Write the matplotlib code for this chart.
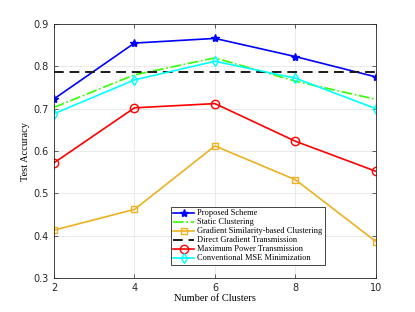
import matplotlib
matplotlib.use('Agg')
from matplotlib import pyplot as plt

clusters = [2, 4, 6, 8, 10]
proposed = [0.723, 0.855, 0.866, 0.823, 0.775]
static = [0.703, 0.780, 0.820, 0.765, 0.722]
grad_sim = [0.413, 0.462, 0.612, 0.532, 0.386]
direct = 0.786
max_power = [0.572, 0.702, 0.712, 0.623, 0.552]
conv_mse = [0.688, 0.768, 0.812, 0.772, 0.700]

serif = 'Liberation Serif'

fig = plt.figure(figsize=(4.15, 3.12), dpi=100)
ax = fig.add_axes([0.130, 0.109, 0.776, 0.814])

ax.plot(clusters, proposed, '-*', color='#0000ff', lw=1.2, ms=6, label='Proposed Scheme')
ax.plot(clusters, static, '-.', color='#33ff00', lw=1.2, label='Static Clustering')
ax.plot(clusters, grad_sim, '-s', color='#edb120', lw=1.2, ms=5, mfc='none', label='Gradient Similarity-based Clustering')
ax.axhline(direct, color='#1a1a1a', ls=(0, (5, 3)), lw=1.4, label='Direct Gradient Transmission')
ax.plot(clusters, max_power, '-o', color='#ff0000', lw=1.2, ms=6, mfc='none', label='Maximum Power Transmission')
ax.plot(clusters, conv_mse, '-d', color='#00ffff', lw=1.2, ms=5, mfc='none', label='Conventional MSE Minimization')

ax.set_xlim(2, 10)
ax.set_ylim(0.3, 0.9)
ax.set_xticks(clusters)
ax.set_yticks([0.3, 0.4, 0.5, 0.6, 0.7, 0.8, 0.9])
ax.grid(True, color='#e6e6e6', lw=0.6)
ax.set_axisbelow(True)
ax.tick_params(direction='in', top=True, right=True, labelsize=7, colors='#262626', length=3, width=0.5)
for s in ax.spines.values():
    s.set_color('#262626')
    s.set_linewidth(0.6)

ax.set_xlabel('Number of Clusters', family=serif, fontsize=7.5, labelpad=1)
ax.set_ylabel('Test Accuracy', family=serif, fontsize=7.5, labelpad=3)

leg = ax.legend(loc='lower left', bbox_to_anchor=(0.35, 0.035), prop={'family': serif, 'size': 6},
                fancybox=False, edgecolor='#262626', framealpha=1, handlelength=2.5,
                borderpad=0.3, labelspacing=0.12, handletextpad=0.4)
leg.get_frame().set_linewidth(0.6)

fig.savefig('out.png', dpi=100)
